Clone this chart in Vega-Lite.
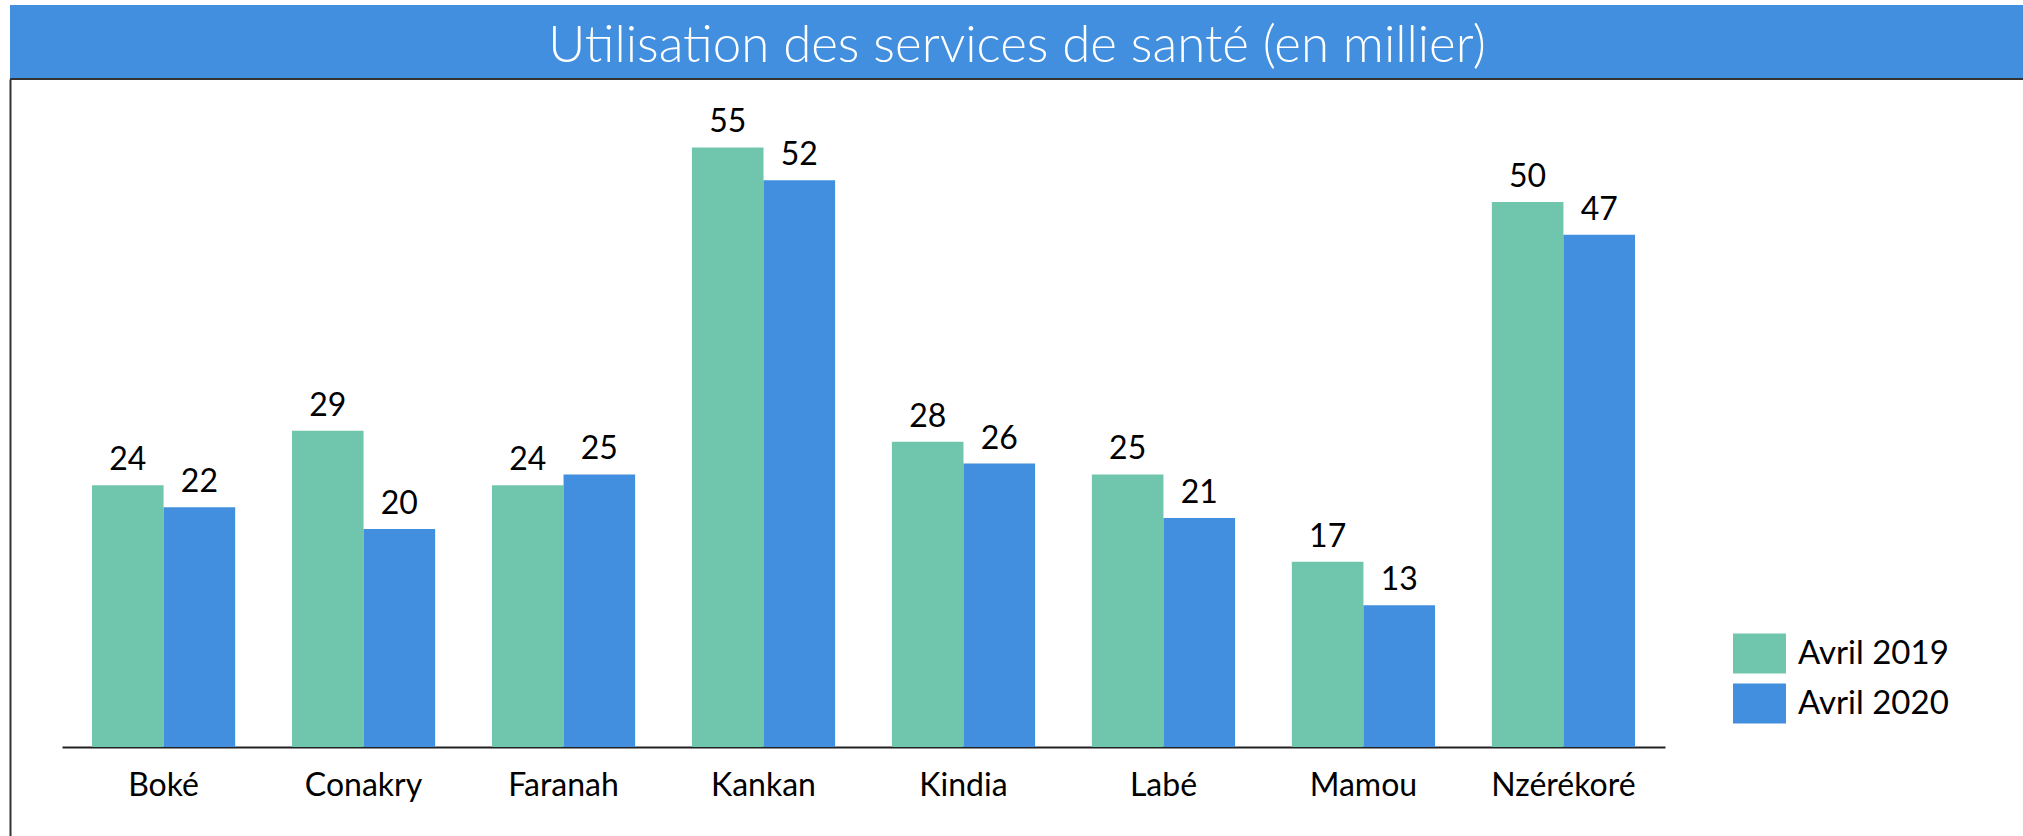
{
  "$schema": "https://vega.github.io/schema/vega-lite/v6.json",
  "padding": {"left": 9, "top": 5, "right": 0, "bottom": 0},
  "background": "white",
  "spacing": 0,
  "bounds": "flush",
  "config": {
    "font": "Lato",
    "view": {"stroke": null}
  },
  "datasets": {
    "health": [
      {"region": "Boké", "series": "Avril 2019", "value": 24},
      {"region": "Boké", "series": "Avril 2020", "value": 22},
      {"region": "Conakry", "series": "Avril 2019", "value": 29},
      {"region": "Conakry", "series": "Avril 2020", "value": 20},
      {"region": "Faranah", "series": "Avril 2019", "value": 24},
      {"region": "Faranah", "series": "Avril 2020", "value": 25},
      {"region": "Kankan", "series": "Avril 2019", "value": 55},
      {"region": "Kankan", "series": "Avril 2020", "value": 52},
      {"region": "Kindia", "series": "Avril 2019", "value": 28},
      {"region": "Kindia", "series": "Avril 2020", "value": 26},
      {"region": "Labé", "series": "Avril 2019", "value": 25},
      {"region": "Labé", "series": "Avril 2020", "value": 21},
      {"region": "Mamou", "series": "Avril 2019", "value": 17},
      {"region": "Mamou", "series": "Avril 2020", "value": 13},
      {"region": "Nzérékoré", "series": "Avril 2019", "value": 50},
      {"region": "Nzérékoré", "series": "Avril 2020", "value": 47}
    ],
    "title": [
      {"label": "Utilisation des services de santé (en millier)"}
    ]
  },
  "vconcat": [
    {
      "width": 2014,
      "height": 74,
      "view": {"fill": "#418fde", "stroke": null},
      "data": {"name": "title"},
      "mark": {"type": "text", "color": "white", "font": "Lato", "fontWeight": 300, "fontSize": 51, "baseline": "middle", "align": "center", "dy": 5},
      "encoding": {"text": {"field": "label", "type": "nominal"}}
    },
    {
      "width": 2014,
      "height": 757,
      "view": {"stroke": null},
      "data": {"name": "health"},
      "layer": [
        {
          "mark": {"type": "bar"},
          "encoding": {
            "x": {
              "field": "region",
              "type": "nominal",
              "sort": null,
              "scale": {"range": [52, 1655], "paddingInner": 0.284, "paddingOuter": 0.15},
              "axis": {
                "orient": "bottom",
                "offset": -89,
                "title": null,
                "labelAngle": 0,
                "labelFont": "Lato",
                "labelFontSize": 32,
                "labelColor": "#000000",
                "labelPadding": 23,
                "ticks": false,
                "domain": true,
                "domainColor": "#222222",
                "domainWidth": 2
              }
            },
            "xOffset": {"field": "series", "type": "nominal", "sort": ["Avril 2019", "Avril 2020"]},
            "y": {
              "field": "value",
              "type": "quantitative",
              "scale": {"domain": [-8.17, 61.28], "nice": false, "zero": false},
              "axis": {
                "orient": "left",
                "title": null,
                "labels": false,
                "ticks": false,
                "grid": false,
                "domain": true,
                "domainColor": "#333333",
                "domainWidth": 2
              }
            },
            "y2": {"datum": 0},
            "color": {
              "field": "series",
              "type": "nominal",
              "scale": {"domain": ["Avril 2019", "Avril 2020"], "range": ["#70c6ac", "#418fde"]},
              "legend": {
                "orient": "none",
                "legendX": 1723,
                "legendY": 622,
                "title": null,
                "padding": 0,
                "symbolType": "M-1,-0.755H1V0.755H-1Z",
                "symbolSize": 2809,
                "symbolStrokeWidth": 0,
                "labelFont": "Lato",
                "labelFontSize": 33,
                "labelColor": "#000000",
                "labelOffset": 12,
                "rowPadding": 3
              }
            }
          }
        },
        {
          "mark": {"type": "text", "baseline": "alphabetic", "dy": -15, "fontSize": 32, "font": "Lato", "color": "#000000"},
          "encoding": {
            "x": {"field": "region", "type": "nominal", "sort": null},
            "xOffset": {"field": "series", "type": "nominal", "sort": ["Avril 2019", "Avril 2020"]},
            "y": {"field": "value", "type": "quantitative"},
            "text": {"field": "value", "type": "quantitative"}
          }
        },
        {
          "mark": {"type": "rule", "color": "#333333", "strokeWidth": 2},
          "encoding": {"y": {"datum": 61.28}}
        }
      ]
    }
  ]
}
